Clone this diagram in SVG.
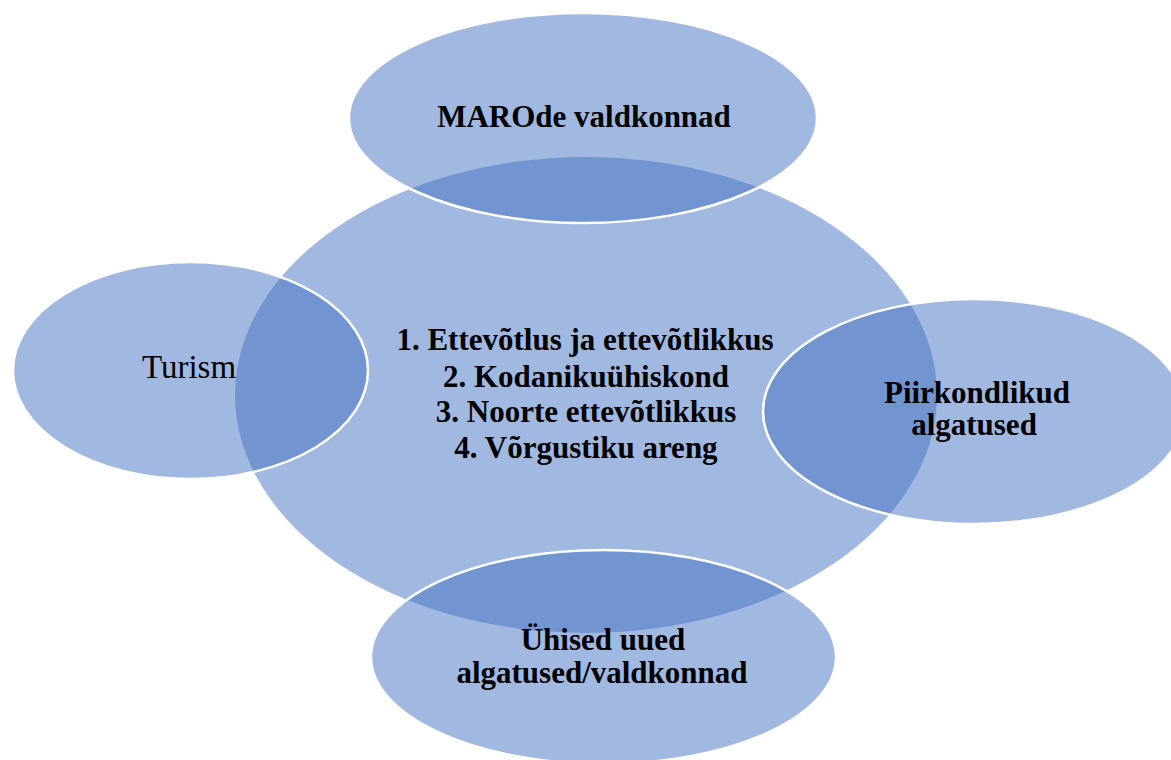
<svg xmlns="http://www.w3.org/2000/svg" width="1171" height="760" viewBox="0 0 1171 760">
<style>
.e{fill:#4472c4;fill-opacity:0.5;stroke:#ffffff;stroke-width:2.5}
.t{font-family:"Liberation Serif","Times New Roman",serif;font-size:31px;font-weight:bold;fill:#000;text-anchor:middle}
.r{font-weight:normal}
</style>
<rect width="1171" height="760" fill="#ffffff"/>
<g id="center">
<ellipse class="e" cx="586" cy="395" rx="351" ry="238" style="stroke:none"/>
</g>
<g id="top">
<ellipse class="e" cx="583" cy="118" rx="234" ry="105"/>
</g>
<g id="left">
<ellipse class="e" cx="190.5" cy="370.5" rx="177.5" ry="108.5"/>
</g>
<g id="right">
<ellipse class="e" cx="974" cy="411.5" rx="211" ry="112.5"/>
</g>
<g id="bottom">
<ellipse class="e" cx="603.5" cy="657" rx="232.5" ry="107"/>
</g>
<g id="labels">
<text class="t" x="585" y="350">1. Ettevõtlus ja ettevõtlikkus</text>
<text class="t" x="586" y="387">2. Kodanikuühiskond</text>
<text class="t" x="586" y="422">3. Noorte ettevõtlikkus</text>
<text class="t" x="586" y="458">4. Võrgustiku areng</text>
<text class="t" x="584" y="127">MAROde valdkonnad</text>
<text class="t r" x="189" y="378" style="font-size:33px">Turism</text>
<text class="t" x="977" y="403">Piirkondlikud</text>
<text class="t" x="974" y="435">algatused</text>
<text class="t" x="603" y="650">Ühised uued</text>
<text class="t" x="602" y="683">algatused/valdkonnad</text>
</g>
<g id="connectors"></g>
</svg>
